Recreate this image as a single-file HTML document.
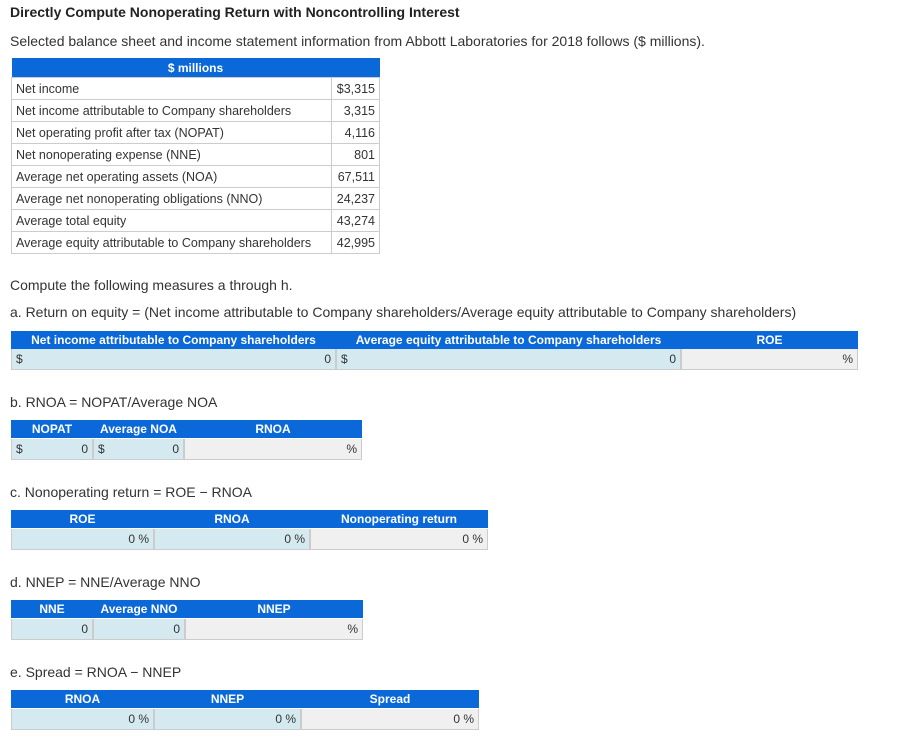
<!DOCTYPE html>
<html><head><meta charset="utf-8"><style>
body{margin:0;width:917px;height:739px;background:#fff;font-family:"Liberation Sans",sans-serif;color:#333;position:relative;overflow:hidden}
.t{position:absolute;white-space:nowrap;font-size:14px}
.h{position:absolute;background:#0a68d8;color:#fff;font-weight:bold;font-size:12px;height:18px;line-height:18px}
.h span{position:absolute;top:0;text-align:center}
.c{position:absolute;height:21px;line-height:21px;font-size:12px;box-sizing:border-box;border:1px solid #ccc;border-top:none;color:#333}
.in{background:#d5eaf0}.out{background:#f0f0f0}
.c .l{position:absolute;left:4px}.c .r{position:absolute;right:4px}
table{position:absolute;left:11px;top:58px;border-collapse:collapse;font-size:12.5px;width:369px}
td{border:1px solid #ccc;height:22px;padding:0 4px;box-sizing:border-box}
th{background:#0a68d8;color:#fff;height:19px;padding:0;font-size:12px}
</style></head><body>
<div class="t" style="left:10px;top:4px;font-weight:bold;font-size:14px;color:#222">Directly Compute Nonoperating Return with Noncontrolling Interest</div>
<div class="t" style="left:10px;top:33px">Selected balance sheet and income statement information from Abbott Laboratories for 2018 follows ($ millions).</div>
<table>
<tr><th colspan="2">$ millions</th></tr>
<tr><td>Net income</td><td style="text-align:right">$3,315</td></tr>
<tr><td>Net income attributable to Company shareholders</td><td style="text-align:right">3,315</td></tr>
<tr><td>Net operating profit after tax (NOPAT)</td><td style="text-align:right">4,116</td></tr>
<tr><td>Net nonoperating expense (NNE)</td><td style="text-align:right">801</td></tr>
<tr><td>Average net operating assets (NOA)</td><td style="text-align:right">67,511</td></tr>
<tr><td>Average net nonoperating obligations (NNO)</td><td style="text-align:right">24,237</td></tr>
<tr><td>Average total equity</td><td style="text-align:right">43,274</td></tr>
<tr><td>Average equity attributable to Company shareholders</td><td style="text-align:right;width:48px">42,995</td></tr>
</table>
<div class="t" style="left:10px;top:277px">Compute the following measures a through h.</div>

<div class="t" style="left:10px;top:304px">a. Return on equity = (Net income attributable to Company shareholders/Average equity attributable to Company shareholders)</div>
<div class="h" style="left:11px;top:331px;width:847px">
<span style="left:0;width:325px">Net income attributable to Company shareholders</span><span style="left:325px;width:345px">Average equity attributable to Company shareholders</span><span style="left:670px;width:177px">ROE</span></div>
<div class="c in" style="left:11px;top:349px;width:325px"><span class="l">$</span><span class="r">0</span></div>
<div class="c in" style="left:336px;top:349px;width:345px"><span class="l">$</span><span class="r">0</span></div>
<div class="c out" style="left:681px;top:349px;width:177px"><span class="r">%</span></div>

<div class="t" style="left:10px;top:394px">b. RNOA = NOPAT/Average NOA</div>
<div class="h" style="left:11px;top:420px;width:351px">
<span style="left:0;width:82px">NOPAT</span><span style="left:82px;width:91px">Average NOA</span><span style="left:173px;width:178px">RNOA</span></div>
<div class="c in" style="left:11px;top:439px;width:82px"><span class="l">$</span><span class="r">0</span></div>
<div class="c in" style="left:93px;top:439px;width:91px"><span class="l">$</span><span class="r">0</span></div>
<div class="c out" style="left:184px;top:439px;width:178px"><span class="r">%</span></div>

<div class="t" style="left:10px;top:484px">c. Nonoperating return = ROE − RNOA</div>
<div class="h" style="left:11px;top:510px;width:477px">
<span style="left:0;width:143px">ROE</span><span style="left:143px;width:156px">RNOA</span><span style="left:299px;width:178px">Nonoperating return</span></div>
<div class="c in" style="left:11px;top:529px;width:143px"><span class="r">0 %</span></div>
<div class="c in" style="left:154px;top:529px;width:156px"><span class="r">0 %</span></div>
<div class="c out" style="left:310px;top:529px;width:178px"><span class="r">0 %</span></div>

<div class="t" style="left:10px;top:574px">d. NNEP = NNE/Average NNO</div>
<div class="h" style="left:11px;top:600px;width:352px">
<span style="left:0;width:82px">NNE</span><span style="left:82px;width:92px">Average NNO</span><span style="left:174px;width:178px">NNEP</span></div>
<div class="c in" style="left:11px;top:619px;width:82px"><span class="r">0</span></div>
<div class="c in" style="left:93px;top:619px;width:92px"><span class="r">0</span></div>
<div class="c out" style="left:185px;top:619px;width:178px"><span class="r">%</span></div>

<div class="t" style="left:10px;top:664px">e. Spread = RNOA − NNEP</div>
<div class="h" style="left:11px;top:690px;width:468px">
<span style="left:0;width:143px">RNOA</span><span style="left:143px;width:147px">NNEP</span><span style="left:290px;width:178px">Spread</span></div>
<div class="c in" style="left:11px;top:709px;width:143px"><span class="r">0 %</span></div>
<div class="c in" style="left:154px;top:709px;width:147px"><span class="r">0 %</span></div>
<div class="c out" style="left:301px;top:709px;width:178px"><span class="r">0 %</span></div>
</body></html>
